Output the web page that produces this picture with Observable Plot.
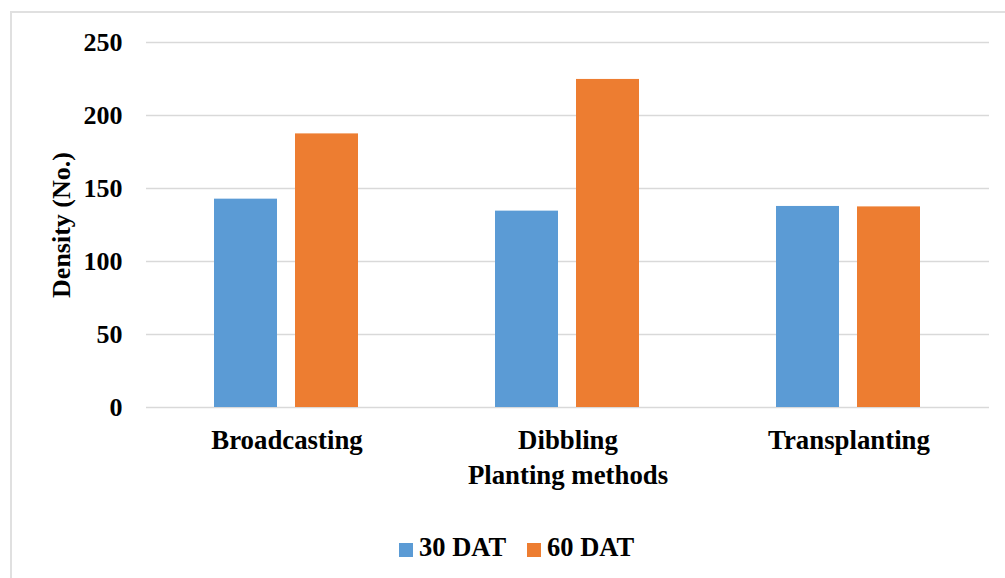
<!DOCTYPE html>
<html>
<head>
<meta charset="utf-8">
<script src="https://cdn.jsdelivr.net/npm/d3@7"></script>
<script src="https://cdn.jsdelivr.net/npm/@observablehq/plot@0.6"></script>
<style>
  html, body { margin: 0; padding: 0; background: #fff; }
  #wrap { position: relative; width: 1005px; height: 578px; overflow: hidden;
          font-family: "Liberation Serif", "Times New Roman", serif; font-weight: bold; }
  #frame { position: absolute; left: 10px; top: 11px; width: 1200px; height: 800px;
           border-left: 2px solid #e0e0e0; border-top: 2px solid #e0e0e0; box-sizing: border-box; }
  #chart { position: absolute; left: 0; top: 0; }
  #legend { position: absolute; left: 399px; top: 532px; display: flex; align-items: center;
            font-size: 26.5px; color: #000; white-space: nowrap; }
  .item { display: flex; align-items: center; margin-right: 21px; }
  .sw { width: 14px; height: 14px; margin-right: 6px; margin-top: 4px; }
</style>
</head>
<body>
<div id="wrap">
  <div id="frame"></div>
  <div id="chart"></div>
  <div id="legend"></div>
</div>
<script>
const methods = ["Broadcasting", "Dibbling", "Transplanting"];
const series = ["30 DAT", "60 DAT"];
const values30 = [142.7, 134.5, 137.7];
const values60 = [187.4, 224.7, 137.4];
const colors = ["#5B9BD5", "#ED7D31"];
const yTicks = [0, 50, 100, 150, 200, 250];

const data = [];
methods.forEach((m, i) => {
  data.push({method: m, series: series[0], value: values30[i]});
  data.push({method: m, series: series[1], value: values60[i]});
});

const chart = Plot.plot({
  width: 1005,
  height: 500,
  marginLeft: 146,
  marginRight: 16,
  marginTop: 42,
  marginBottom: 93,
  style: {fontFamily: '"Liberation Serif", "Times New Roman", serif', fontSize: "26px", fontWeight: "bold", color: "#000", background: "transparent"},
  fx: {domain: methods, padding: 0, label: null},
  x: {domain: series, paddingInner: 0.222, paddingOuter: 0.845, axis: null},
  y: {domain: [0, 250], label: null},
  color: {domain: series, range: colors},
  marks: [
    Plot.ruleY(yTicks, {stroke: "#d9d9d9", strokeWidth: 1.5}),
    Plot.barY(data, {fx: "method", x: "series", y: "value", fill: "series"}),
    Plot.axisY({ticks: yTicks, tickSize: 0, tickPadding: 24, fontSize: 26, label: "Density (No.)", labelAnchor: "center", labelOffset: 95, labelArrow: "none", fill: "#000"}),
    Plot.axisFx({anchor: "bottom", tickSize: 0, tickPadding: 22.5, fontSize: 26.8, label: "Planting methods", labelAnchor: "center", labelOffset: 76, fill: "#000"})
  ]
});
document.getElementById("chart").appendChild(chart);

const legend = document.getElementById("legend");
series.forEach((s, i) => {
  const item = document.createElement("div");
  item.className = "item";
  const sw = document.createElement("div");
  sw.className = "sw";
  sw.style.background = colors[i];
  const t = document.createElement("span");
  t.textContent = s;
  item.appendChild(sw);
  item.appendChild(t);
  legend.appendChild(item);
});
</script>
</body>
</html>
